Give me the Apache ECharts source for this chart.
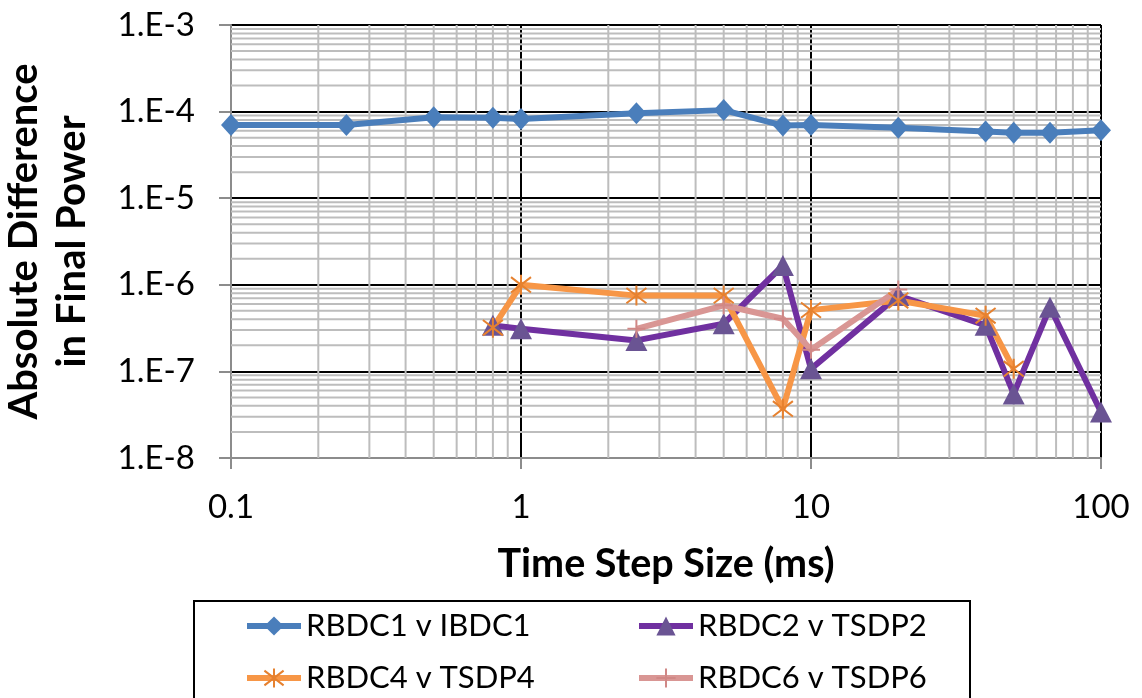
<!DOCTYPE html>
<html>
<head>
<meta charset="utf-8">
<script src="https://cdn.jsdelivr.net/npm/echarts@6/dist/echarts.min.js"></script>
<style>
  html, body { margin: 0; padding: 0; background: #ffffff; }
  #chart { width: 1142px; height: 698px; }
</style>
</head>
<body>
<div id="chart"></div>
<script>
// ---- data ----
const seriesNames = ['RBDC1 v IBDC1', 'RBDC2 v TSDP2', 'RBDC4 v TSDP4', 'RBDC6 v TSDP6'];

const rbdc1X = [0.1, 0.25, 0.5, 0.8, 1, 2.5, 5, 8, 10, 20, 40, 50, 66.7, 100];
const rbdc1Y = [7.0e-5, 7.0e-5, 8.6e-5, 8.5e-5, 8.2e-5, 9.6e-5, 1.04e-4, 6.9e-5, 7.0e-5, 6.5e-5, 5.9e-5, 5.7e-5, 5.7e-5, 6.1e-5];

const rbdc2X = [0.8, 1, 2.5, 5, 8, 10, 20, 40, 50, 66.7, 100];
const rbdc2Y = [3.4e-7, 3.1e-7, 2.28e-7, 3.55e-7, 1.67e-6, 1.07e-7, 7.5e-7, 3.4e-7, 5.5e-8, 5.5e-7, 3.4e-8];

const rbdc4X = [0.8, 1, 2.5, 5, 8, 10, 20, 40, 50];
const rbdc4Y = [3.2e-7, 1.0e-6, 7.5e-7, 7.5e-7, 3.7e-8, 5.1e-7, 6.6e-7, 4.4e-7, 1.07e-7];

const rbdc6X = [2.5, 5, 8, 10, 20];
const rbdc6Y = [3.1e-7, 5.8e-7, 4.05e-7, 1.78e-7, 8.8e-7];

const xMin = 0.1, xMax = 100;
const yMin = 1e-8, yMax = 1e-3;
const xAxisTitle = 'Time Step Size (ms)';
const yAxisTitle = 'Absolute Difference\nin Final Power';

// ---- helpers ----
const zip = (xs, ys) => xs.map((x, i) => [x, ys[i]]);
function minorValues(lo, hi) {
  const out = [];
  for (let e = Math.round(Math.log10(lo)); e < Math.round(Math.log10(hi)); e++) {
    for (let m = 2; m <= 9; m++) out.push(+(m * Math.pow(10, e)).toPrecision(6));
  }
  return out;
}
const minorX = minorValues(xMin, xMax).map(v => [v, yMin]);
const minorY = minorValues(yMin, yMax).map(v => [xMin, v]);

const FONT = 'Lato';
const chart = echarts.init(document.getElementById('chart'), null, { renderer: 'canvas' });

const gridColor = '#bdbdbd';
const legendCommon = {
  top: 609, orient: 'vertical', padding: 0, itemGap: 18, itemWidth: 54, itemHeight: 24,
  height: 89,
  lineStyle: { width: 6 },
  textStyle: { fontFamily: FONT, fontSize: 31, color: '#000', lineHeight: 34 }
};

const option = {
  backgroundColor: '#ffffff',
  animation: false,
  grid: { left: 231, right: 41, top: 25, bottom: 240, containLabel: false, outerBoundsMode: 'none' },
  xAxis: {
    type: 'log', logBase: 10, min: xMin, max: xMax,
    name: xAxisTitle, nameLocation: 'middle', nameGap: 86,
    nameTextStyle: { fontFamily: FONT, fontWeight: 'bold', fontSize: 39.5, color: '#000' },
    axisLine: { show: true, lineStyle: { color: '#8c8c8c', width: 2 } },
    axisTick: { show: true, inside: false, length: 11, lineStyle: { color: '#8c8c8c', width: 2 } },
    axisLabel: {
      fontFamily: FONT, fontSize: 33, color: '#000', margin: 33,
      formatter: v => String(+Number(v).toPrecision(3))
    },
    splitLine: { show: true, lineStyle: { color: '#000', width: 2 } },
    minorTick: { show: false }, minorSplitLine: { show: false }
  },
  yAxis: {
    type: 'log', logBase: 10, min: yMin, max: yMax,
    name: yAxisTitle, nameLocation: 'middle', nameGap: 135,
    nameTextStyle: { fontFamily: FONT, fontWeight: 'bold', fontSize: 40, color: '#000', lineHeight: 48 },
    axisLine: { show: true, lineStyle: { color: '#8c8c8c', width: 2 } },
    axisTick: { show: true, inside: false, length: 12, lineStyle: { color: '#8c8c8c', width: 2 } },
    axisLabel: {
      fontFamily: FONT, fontSize: 33, color: '#000', margin: 36,
      formatter: v => '1.E' + Math.round(Math.log10(v))
    },
    splitLine: { show: true, lineStyle: { color: '#000', width: 2 } },
    minorTick: { show: false }, minorSplitLine: { show: false }
  },
  legend: [
    Object.assign({ left: 244, data: [seriesNames[0], seriesNames[2]] }, legendCommon),
    Object.assign({ left: 636, data: [seriesNames[1], seriesNames[3]] }, legendCommon)
  ],
  graphic: [
    {
      type: 'rect', left: 193, top: 600, silent: true, z: -1,
      shape: { width: 776, height: 120 },
      style: { fill: '#ffffff', stroke: '#000', lineWidth: 2 }
    }
  ],
  series: [
    {
      type: 'custom', name: 'minorX', silent: true, z: 1, clip: true,
      data: minorX,
      renderItem: (params, api) => {
        const p1 = api.coord([api.value(0), yMin]);
        const p2 = api.coord([api.value(0), yMax]);
        return { type: 'line', shape: { x1: p1[0], y1: p1[1], x2: p2[0], y2: p2[1] },
                 style: { stroke: gridColor, lineWidth: 2 } };
      }
    },
    {
      type: 'custom', name: 'minorY', silent: true, z: 1, clip: true,
      data: minorY,
      renderItem: (params, api) => {
        const p1 = api.coord([xMin, api.value(1)]);
        const p2 = api.coord([xMax, api.value(1)]);
        return { type: 'line', shape: { x1: p1[0], y1: p1[1], x2: p2[0], y2: p2[1] },
                 style: { stroke: gridColor, lineWidth: 2 } };
      }
    },
    {
      type: 'line', name: seriesNames[0], z: 3,
      data: zip(rbdc1X, rbdc1Y),
      symbol: 'diamond', symbolSize: [20, 22],
      lineStyle: { color: '#4a7ebb', width: 6 },
      itemStyle: { color: '#4a7ebb' }
    },
    {
      type: 'line', name: seriesNames[1], z: 3,
      data: zip(rbdc2X, rbdc2Y),
      symbol: 'triangle', symbolSize: [22, 21],
      lineStyle: { color: '#7030a0', width: 6 },
      itemStyle: { color: '#6a5493' }
    },
    {
      type: 'line', name: seriesNames[2], z: 3,
      data: zip(rbdc4X, rbdc4Y),
      symbol: 'path://M0,0L10,10M10,0L0,10M5,-1.5L5,11.5', symbolSize: 20,
      lineStyle: { color: '#f79646', width: 6 },
      itemStyle: { color: '#f79646', borderColor: '#e6812f', borderWidth: 2 }
    },
    {
      type: 'line', name: seriesNames[3], z: 3,
      data: zip(rbdc6X, rbdc6Y),
      symbol: 'path://M5,0L5,10M0,5L10,5', symbolSize: 18,
      lineStyle: { color: '#d99694', width: 6 },
      itemStyle: { color: '#d99694', borderColor: '#d08886', borderWidth: 2 }
    }
  ]
};
chart.setOption(option);
</script>
</body>
</html>
